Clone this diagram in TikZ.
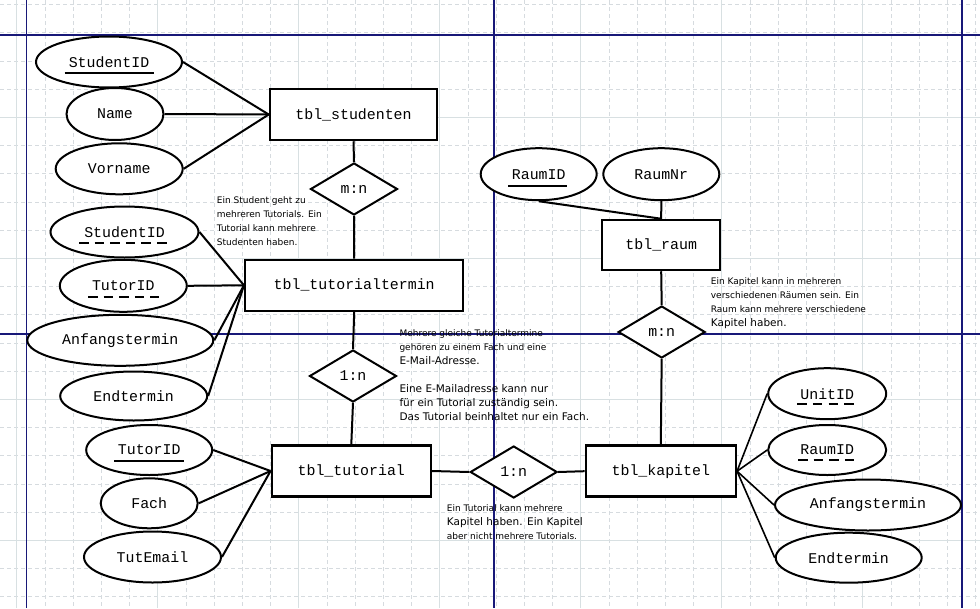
\documentclass[tikz,border=0pt]{standalone}
\usepackage{fontspec}
\setmainfont{DejaVu Sans}
\newfontfamily\ermono{Liberation Mono}
\newcommand\notebig{\fontsize{10.5}{14}\selectfont}
\usetikzlibrary{shapes.geometric}
\definecolor{gridminor}{RGB}{214,219,223}
\definecolor{gridmajor}{RGB}{216,224,226}
\definecolor{pageblue}{RGB}{24,24,120}

\begin{document}
\begin{tikzpicture}[x=1pt, y=-1pt,
    entity/.style = {draw, rectangle, line width=2.5pt, fill=white, inner sep=0pt, minimum height=51pt, font=\ermono\fontsize{14.9}{15}\selectfont},
    attr/.style = {draw, ellipse, line width=2pt, fill=white, inner sep=0pt, minimum height=51pt, font=\ermono\fontsize{14.9}{15}\selectfont},
    rel/.style = {draw, diamond, aspect=1.67, line width=2pt, fill=white, inner sep=0pt, minimum width=87pt, minimum height=52pt, font=\ermono\fontsize{14.9}{15}\selectfont},
    conn/.style = {line width=2pt},
    pkline/.style = {line width=2.2pt},
    fkline/.style = {line width=2.2pt, dash pattern=on 9.5pt off 6.1pt},
    note/.style = {anchor=north west, inner sep=0pt, align=left, font=\fontsize{9}{14}\selectfont}]
    \useasboundingbox[fill=white] (0,0) rectangle (980,608);
    \foreach \gx in {0,...,34} \draw[gridminor, line width=0.8pt, dash pattern=on 4pt off 3pt] ({16.7+28.2*\gx},0) -- ++(0,608);
    \foreach \gy in {0,...,21} \draw[gridminor, line width=0.8pt, dash pattern=on 4pt off 3pt] (0,{4.5+28.2*\gy}) -- ++(980,0);
    \foreach \gx in {0,...,6} \draw[gridmajor, line width=0.9pt] ({16.7+141*\gx},0) -- ++(0,608);
    \foreach \gy in {0,...,3} \draw[gridmajor, line width=0.9pt] (0,{117.3+141*\gy}) -- ++(980,0);
    \foreach \gx in {26.7,494,962} \draw[pageblue, line width=1.3pt] (\gx,0) -- ++(0,608);
    \foreach \gy in {35,334} \draw[pageblue, line width=1.3pt] (0,\gy) -- ++(980,0);

    \node[entity, minimum width=167pt] (S) at (353.5,114.5) {tbl\_studenten};
    \node[entity, minimum width=218pt] (T) at (354.2,285.3) {tbl\_tutorialtermin};
    \node[entity, minimum width=159pt] (U) at (351.3,471) {tbl\_tutorial};
    \node[entity, minimum width=150pt] (K) at (660.8,471.2) {tbl\_kapitel};
    \node[entity, minimum width=118pt, minimum height=50pt] (R) at (661.2,245) {tbl\_raum};

    \node[rel] (ST) at (354,189) {m:n};
    \node[rel] (TU) at (353,376) {1:n};
    \node[rel] (UK) at (513.7,472) {1:n};
    \node[rel] (RK) at (661.7,332) {m:n};

    \node[attr, minimum width=146pt] (S1) at (109,62) {StudentID};
    \node[attr, minimum width=97pt, minimum height=52pt] (S2) at (115,114) {Name};
    \node[attr, minimum width=127pt] (S3) at (119.2,168.8) {Vorname};
    \node[attr, minimum width=148pt] (T1) at (124.5,232) {StudentID};
    \node[attr, minimum width=127pt, minimum height=52pt] (T2) at (123.3,285.8) {TutorID};
    \node[attr, minimum width=186pt] (T3) at (120.3,340.3) {Anfangstermin};
    \node[attr, minimum width=147pt, minimum height=49pt] (T4) at (133.7,396) {Endtermin};
    \node[attr, minimum width=126pt, minimum height=50pt] (U1) at (149.2,450) {TutorID};
    \node[attr, minimum width=97pt, minimum height=50pt] (U2) at (149.2,503.3) {Fach};
    \node[attr, minimum width=137pt] (U3) at (152.5,557) {TutEmail};
    \node[attr, minimum width=116pt, minimum height=52pt] (R1) at (538.7,174.2) {RaumID};
    \node[attr, minimum width=116pt, minimum height=52pt] (R2) at (661.3,174.2) {RaumNr};
    \node[attr, minimum width=118pt] (K1) at (827.2,393.7) {UnitID};
    \node[attr, minimum width=118pt, minimum height=50pt] (K2) at (827.2,450) {RaumID};
    \node[attr, minimum width=186pt] (K3) at (868,505) {Anfangstermin};
    \node[attr, minimum width=146pt, minimum height=50pt] (K4) at (848.7,557.7) {Endtermin};

    \draw[pkline] ([shift={(-44.5,11)}]S1.center) -- ++(89,0);
    \draw[pkline] ([shift={(-35.2,10.7)}]U1.center) -- ++(70,0);
    \draw[pkline] ([shift={(-30.4,11.5)}]R1.center) -- ++(58.4,0);
    \draw[fkline] ([shift={(-45.5,10.7)}]T1.center) -- ++(88,0);
    \draw[fkline] ([shift={(-35.3,10.9)}]T2.center) -- ++(71,0);
    \draw[fkline] ([shift={(-29.9,10.6)}]K1.center) -- ++(57,0);
    \draw[fkline] ([shift={(-29.2,10)}]K2.center) -- ++(57,0);

    \draw[conn] (S1.east) -- (S.west); \draw[conn] (S2.east) -- (S.west); \draw[conn] (S3.east) -- (S.west);
    \draw[conn] (S.south) -- (ST.north); \draw[conn] (ST.south) -- (T.north);
    \draw[conn] (T1.east) -- (T.west); \draw[conn] (T2.east) -- (T.west); \draw[conn] (T3.east) -- (T.west); \draw[conn] (T4.east) -- (T.west);
    \draw[conn] (T.south) -- (TU.north); \draw[conn] (TU.south) -- (U.north);
    \draw[conn] (U1.east) -- (U.west); \draw[conn] (U2.east) -- (U.west); \draw[conn] (U3.east) -- (U.west);
    \draw[conn] (U.east) -- (UK.west); \draw[conn] (UK.east) -- (K.west);
    \draw[conn] (R1.south) -- (R.north); \draw[conn] (R2.south) -- (R.north);
    \draw[conn] (R.south) -- (RK.north); \draw[conn] (RK.south) -- (K.north);
    \draw[conn, line width=1.6pt] (K.east) -- (K1.west); \draw[conn, line width=1.6pt] (K.east) -- (K2.west);
    \draw[conn, line width=1.6pt] (K.east) -- (K3.west); \draw[conn, line width=1.6pt] (K.east) -- (K4.west);

    \node[note] (N1) at (216.7,196.3) {Ein Student geht zu\\mehreren Tutorials. Ein\\Tutorial kann mehrere\\Studenten haben.};
    \node[note] (N2) at (399.3,329.9) {Mehrere gleiche Tutorialtermine\\gehören zu einem Fach und eine\\\notebig E-Mail-Adresse.\\[14pt]\notebig Eine E-Mailadresse kann nur\\\notebig für ein Tutorial zuständig sein.\\\notebig Das Tutorial beinhaltet nur ein Fach.};
    \node[note] (N3) at (446.7,504.9) {Ein Tutorial kann mehrere\\\notebig Kapitel haben. Ein Kapitel\\aber nicht mehrere Tutorials.};
    \node[note] (N4) at (710.7,277.9) {Ein Kapitel kann in mehreren\\verschiedenen Räumen sein. Ein\\Raum kann mehrere verschiedene\\\notebig Kapitel haben.};
\end{tikzpicture}
\end{document}
